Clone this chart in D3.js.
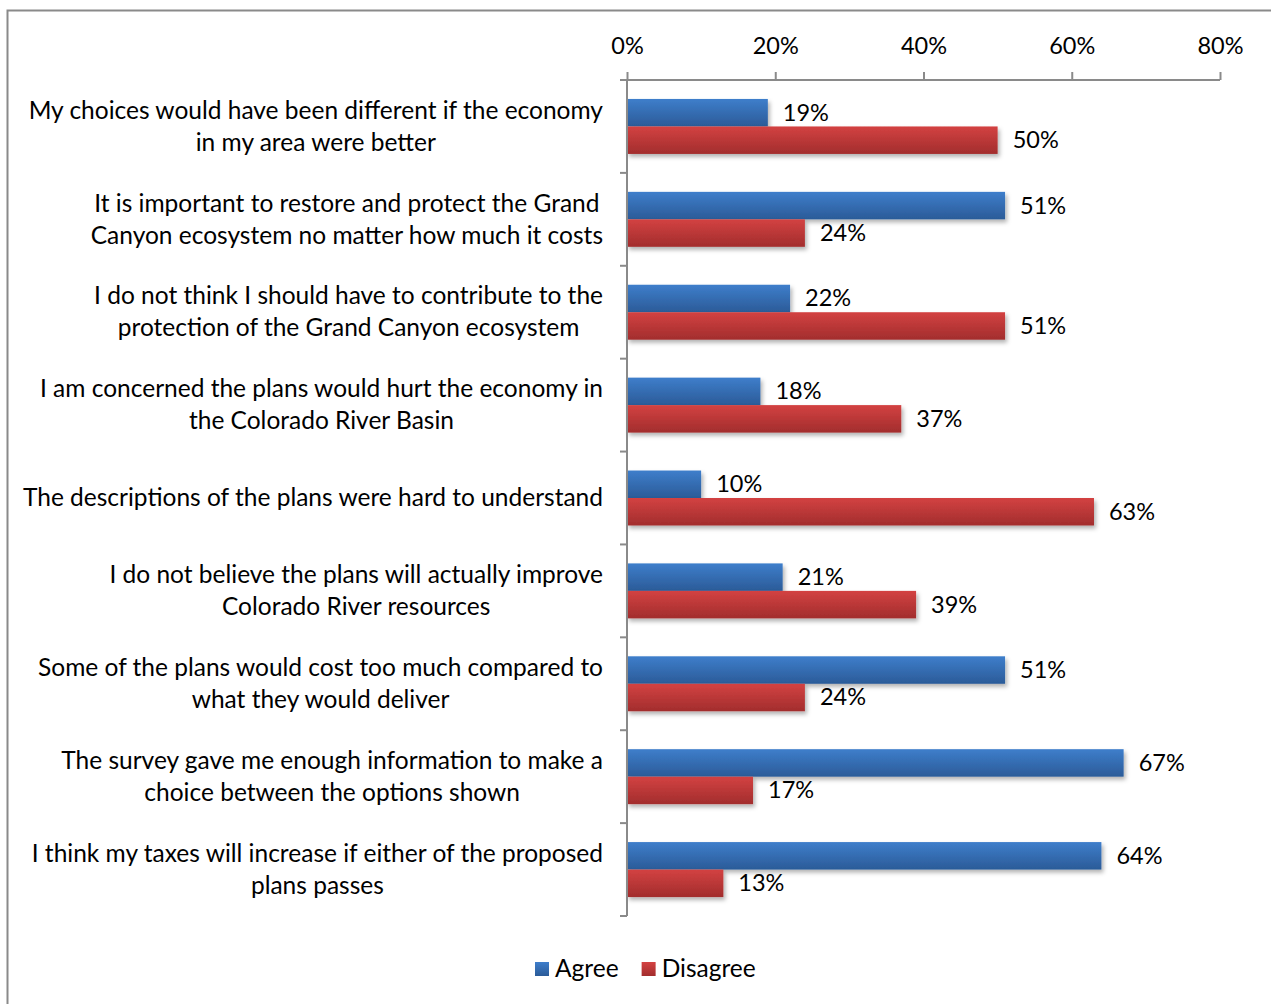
<!DOCTYPE html>
<html>
<head>
<meta charset="utf-8">
<script src="https://cdn.jsdelivr.net/npm/d3@7"></script>
<style>
  html, body { margin: 0; padding: 0; background: #fff; }
  svg { display: block; }
  text { font-family: Lato, "Open Sans", sans-serif; fill: #000; }
</style>
</head>
<body>
<svg id="chart" width="1271" height="1004"></svg>
<script>
// Survey statements (each entry holds its wrapped lines)
const statements = [
  ["My choices would have been different if the economy", "in my area were better"],
  ["It is important to restore and protect the Grand", "Canyon ecosystem no matter how much it costs"],
  ["I do not think I should have to contribute to the", "protection of the Grand Canyon ecosystem"],
  ["I am concerned the plans would hurt the economy in", "the Colorado River Basin"],
  ["The descriptions of the plans were hard to understand"],
  ["I do not believe the plans will actually improve", "Colorado River resources"],
  ["Some of the plans would cost too much compared to", "what they would deliver"],
  ["The survey gave me enough information to make a", "choice between the options shown"],
  ["I think my taxes will increase if either of the proposed", "plans passes"]
];
const seriesNames = ["Agree", "Disagree"];
const agree    = [0.19, 0.51, 0.22, 0.18, 0.10, 0.21, 0.51, 0.67, 0.64];
const disagree = [0.50, 0.24, 0.51, 0.37, 0.63, 0.39, 0.24, 0.17, 0.13];
const tickValues = [0, 0.2, 0.4, 0.6, 0.8];

const svg = d3.select("#chart");
const defs = svg.append("defs");

// Outer chart frame
svg.append("rect")
  .attr("x", 7.5).attr("y", 10.5)
  .attr("width", 1300).attr("height", 1100)
  .attr("fill", "#fff")
  .attr("stroke", "#8a8a8a").attr("stroke-width", 2);

// Vertical gradients for the bars
const grads = [
  { id: "gAgree", top: "#3e7ecb", bottom: "#2b5b98" },
  { id: "gDisagree", top: "#d34242", bottom: "#a22d2d" }
];
grads.forEach(g => {
  const lg = defs.append("linearGradient").attr("id", g.id)
    .attr("x1", 0).attr("y1", 0).attr("x2", 0).attr("y2", 1);
  lg.append("stop").attr("offset", "0%").attr("stop-color", g.top);
  lg.append("stop").attr("offset", "100%").attr("stop-color", g.bottom);
});
const shadow = defs.append("filter").attr("id", "shadow")
  .attr("x", "-5%").attr("y", "-20%").attr("width", "115%").attr("height", "160%");
shadow.append("feDropShadow")
  .attr("dx", 2).attr("dy", 3).attr("stdDeviation", 2)
  .attr("flood-color", "#000").attr("flood-opacity", 0.3);

const x = d3.scaleLinear().domain([0, 0.8]).range([627, 1220]);
const y = d3.scaleBand().domain(d3.range(statements.length)).range([80, 916]);
const inner = d3.scaleBand().domain(seriesNames)
  .range([0, y.bandwidth()]).paddingInner(0).paddingOuter(0.69);

const rows = statements.map((s, i) => ({ i, s, values: [agree[i], disagree[i]] }));

// Bars with value labels
const g = svg.append("g");
rows.forEach(r => {
  r.values.forEach((v, k) => {
    const name = seriesNames[k];
    const by = y(r.i) + inner(name);
    g.append("rect")
      .attr("x", x(0)).attr("y", by)
      .attr("width", x(v) - x(0)).attr("height", inner.bandwidth())
      .attr("fill", `url(#${grads[k].id})`)
      .attr("filter", "url(#shadow)");
    g.append("text")
      .attr("x", x(v) + 15).attr("y", by + inner.bandwidth() / 2 + 2)
      .attr("dominant-baseline", "middle")
      .attr("font-size", 23.5)
      .text(d3.format(".0%")(v));
  });
});

// Top value axis
const axisTop = d3.axisTop(x).tickValues(tickValues)
  .tickFormat(d3.format(".0%")).tickSize(8).tickSizeOuter(0).tickPadding(18);
const ax = svg.append("g").attr("transform", "translate(0,80)").call(axisTop);
ax.select(".domain").attr("stroke", "#8a8a8a").attr("stroke-width", 2)
  .attr("d", `M${x(0) - 7},0H${x(0.8)}`);
ax.selectAll(".tick line").attr("stroke", "#8a8a8a").attr("stroke-width", 2);
ax.selectAll(".tick text").attr("font-size", 23.5).attr("font-family", "Lato, sans-serif").attr("fill", "#000");

// Category axis (left side of the bars)
const catAxis = svg.append("g");
catAxis.append("line")
  .attr("x1", x(0)).attr("x2", x(0))
  .attr("y1", 80).attr("y2", 916)
  .attr("stroke", "#8a8a8a").attr("stroke-width", 2);
d3.range(statements.length + 1).forEach(i => {
  const yy = i < statements.length ? y(i) : y.range()[1];
  catAxis.append("line")
    .attr("x1", x(0) - 7).attr("x2", x(0))
    .attr("y1", yy).attr("y2", yy)
    .attr("stroke", "#8a8a8a").attr("stroke-width", 2);
});

// Category labels: centred lines, block right edge aligned near the axis
const labelRight = 603;
const lineGap = 32;
rows.forEach(r => {
  const cy = y(r.i) + y.bandwidth() / 2 + 2;
  const t = svg.append("text").attr("font-size", 24.5).attr("text-anchor", "middle");
  const tspans = r.s.map((line, j) => t.append("tspan")
    .attr("y", cy + (j - (r.s.length - 1) / 2) * lineGap)
    .attr("dominant-baseline", "middle")
    .text(line));
  const widest = d3.max(tspans, ts => ts.node().getComputedTextLength());
  tspans.forEach(ts => ts.attr("x", labelRight - widest / 2));
});

// Legend
const legend = svg.append("g").attr("transform", "translate(535,969)");
let lx = 0;
seriesNames.forEach((name, k) => {
  legend.append("rect").attr("x", lx).attr("y", -7).attr("width", 14).attr("height", 14)
    .attr("fill", `url(#${grads[k].id})`);
  const tt = legend.append("text").attr("x", lx + 20).attr("y", 2)
    .attr("dominant-baseline", "middle").attr("font-size", 24.5).text(name);
  lx += 20 + tt.node().getComputedTextLength() + 23;
});
</script>
</body>
</html>
